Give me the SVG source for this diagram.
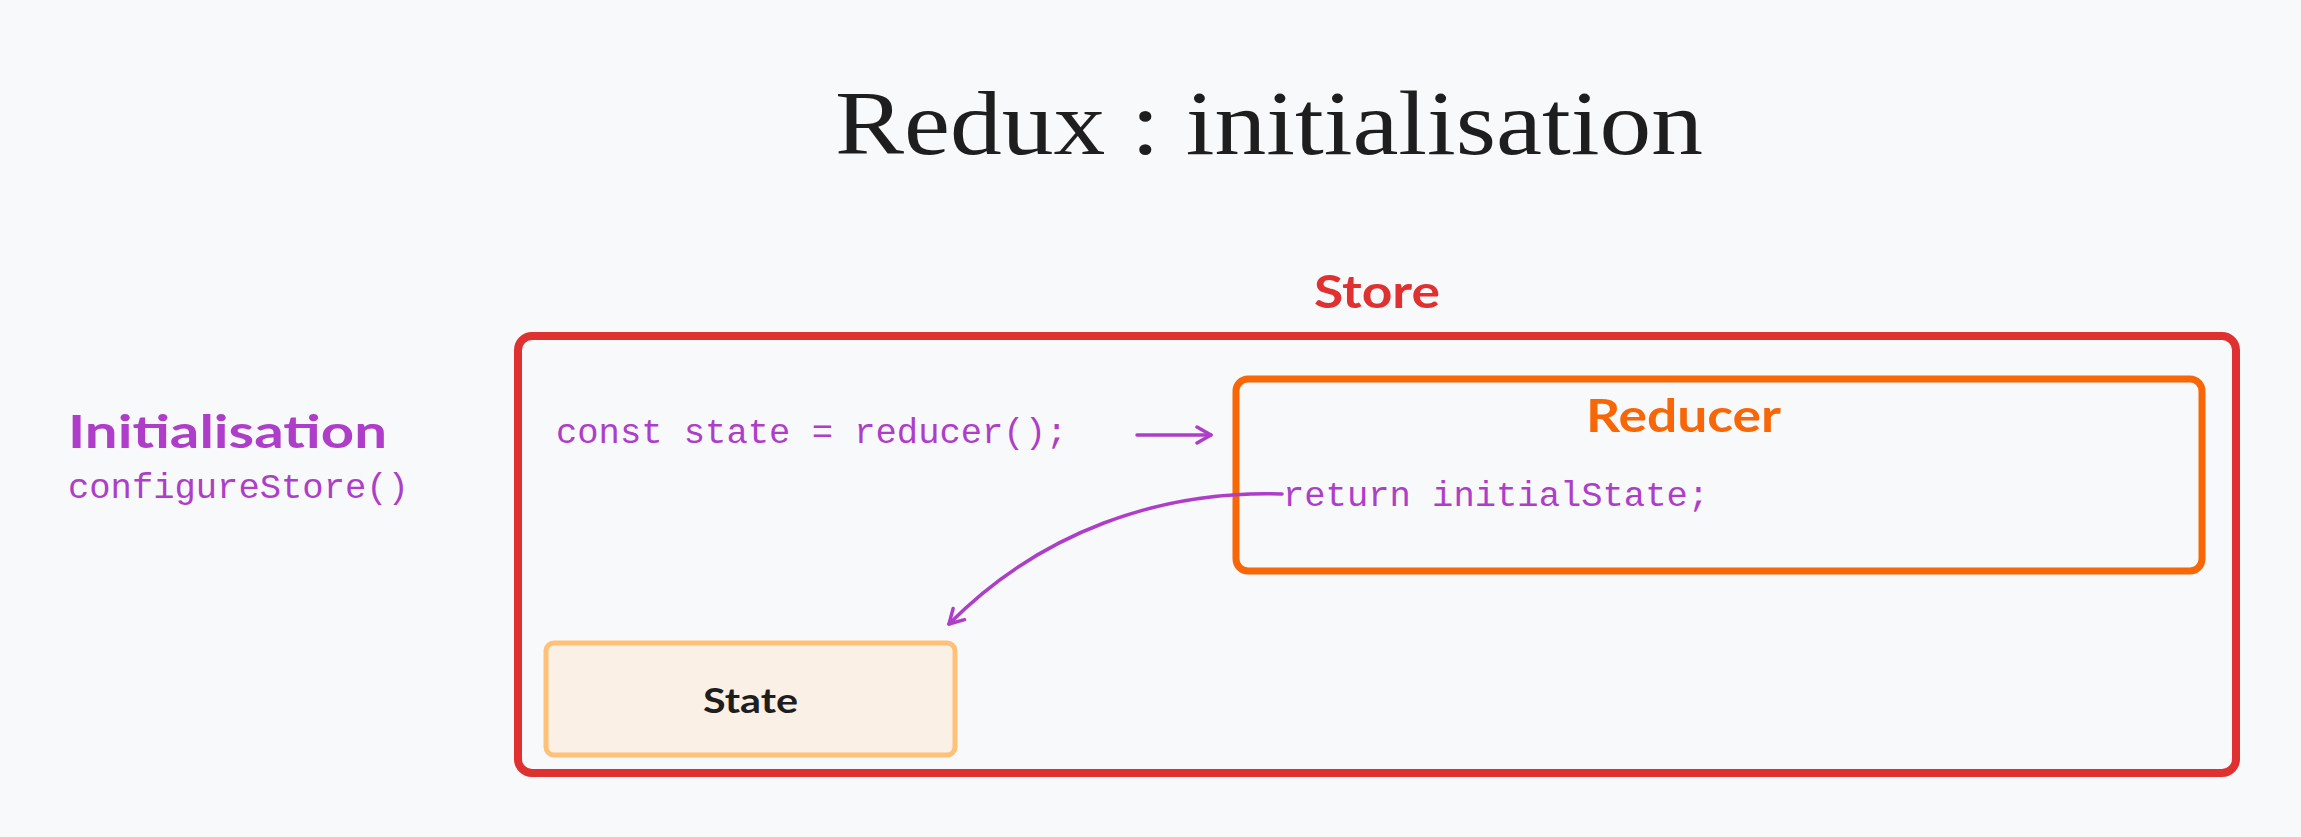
<svg xmlns="http://www.w3.org/2000/svg" width="2301" height="837" viewBox="0 0 2301 837">
<defs>
<style>
.hand{font-family:"Lato","Open Sans","Noto Sans",sans-serif;font-weight:bold;}
.code{font-family:"Liberation Mono","DejaVu Sans Mono",monospace;font-size:35.5px;fill:#ae3ec9;}
.conn{fill:none;stroke:#ae3ec9;stroke-width:3.5;stroke-linecap:round;stroke-linejoin:round;}
</style>
<marker id="arr" viewBox="0 0 20 20" refX="16" refY="10" markerWidth="20" markerHeight="20" markerUnits="userSpaceOnUse" orient="auto">
<path d="M2 2 L16 10 L2 18" fill="none" stroke="#ae3ec9" stroke-width="3.5" stroke-linecap="round" stroke-linejoin="round"/>
</marker>
</defs>
<rect width="2301" height="837" fill="#f8f9fa"/>
<g id="title">
<text x="835" y="154" font-family="Liberation Serif,DejaVu Serif,serif" font-size="92" fill="#1e1e1e" textLength="868" lengthAdjust="spacingAndGlyphs">Redux : initialisation</text>
</g>
<g id="initialisation">
<text class="hand" x="68" y="448" font-size="46" fill="#ae3ec9" textLength="319" lengthAdjust="spacingAndGlyphs">Initialisation</text>
<text class="code" x="68" y="498">configureStore()</text>
</g>
<g id="store">
<text class="hand" x="1314" y="308" font-size="46" fill="#e03131" textLength="126" lengthAdjust="spacingAndGlyphs">Store</text>
<rect x="518" y="336" width="1718" height="437" rx="14" fill="none" stroke="#e03131" stroke-width="8"/>
<text class="code" x="556" y="443">const state = reducer();</text>
</g>
<g id="reducer">
<rect x="1236" y="379" width="966" height="192" rx="12" fill="none" stroke="#f76707" stroke-width="7"/>
<text class="hand" x="1586" y="432" font-size="46" fill="#f76707" textLength="195" lengthAdjust="spacingAndGlyphs">Reducer</text>
<text class="code" x="1283" y="506">return initialState;</text>
</g>
<g id="state">
<rect x="546" y="643" width="409" height="112" rx="8" fill="#faf0e6" stroke="#ffc078" stroke-width="5"/>
<text class="hand" x="703" y="713" font-size="34" fill="#1e1e1e" textLength="95" lengthAdjust="spacingAndGlyphs">State</text>
</g>
<g id="connectors">
<path class="conn" d="M1137 435 L1211 435" marker-end="url(#arr)"/>
<path class="conn" d="M1282 494 C1160 490 1040 532 949 624" marker-end="url(#arr)"/>
</g>
</svg>
